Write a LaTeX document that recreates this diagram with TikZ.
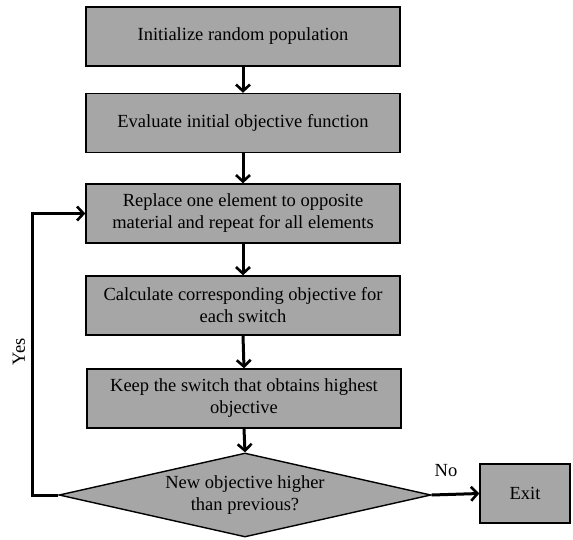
\documentclass[tikz,border=0pt]{standalone}
\usepackage{fontspec}
\setmainfont{Liberation Serif}
\usetikzlibrary{shapes.geometric,arrows.meta}
\definecolor{boxgray}{RGB}{166,166,166}
\begin{document}
\begin{tikzpicture}[x=1pt,y=-1pt,
  every node/.style={font=\fontsize{18.5}{22}\selectfont},
  stepbox/.style={draw=black,line width=1.4pt,fill=boxgray,minimum width=314pt,minimum height=59pt,inner sep=0pt,align=center},
  decbox/.style={draw=black,line width=1.4pt,fill=boxgray,shape=diamond,aspect=4.4,inner sep=0pt,minimum width=372pt,minimum height=84pt,align=center},
  flow/.style={line width=3pt,-{Straight Barb[length=6.5pt,width=14pt,line width=2.6pt]}}]
\useasboundingbox (0,0) rectangle (573,539);
\node[stepbox] (b1) at (243,36.5) {Initialize random population};
\node[stepbox] (b2) at (243,123) {Evaluate initial objective function};
\node[stepbox] (b3) at (243,213.5) {Replace one element to opposite\\material and repeat for all elements};
\node[stepbox] (b4) at (243,305.5) {Calculate corresponding objective for\\each switch};
\node[stepbox] (b5) at (244,398.5) {Keep the switch that obtains highest\\objective};
\node[decbox] (d) at (245,495) {New objective higher\\than previous?};
\node[stepbox,minimum width=90pt] (ex) at (525,493.5) {Exit};
\coordinate (lb) at (32,495);
\coordinate (lt) at (32,213.5);
\draw[flow] (b1.south) -- (b2.north);
\draw[flow] (b2.south) -- (b3.north);
\draw[flow] (b3.south) -- (b4.north);
\draw[flow] (b4.south) -- (b5.north);
\draw[flow] (b5.south) -- (d.north);
\draw[flow] (d.west) -- (lb) -- (lt) -- (b3.west);
\draw[flow] (d.east) -- (ex.west);
\node (no) at (446,471) {No};
\node[rotate=90] (yes) at (19,352) {Yes};
\end{tikzpicture}
\end{document}
